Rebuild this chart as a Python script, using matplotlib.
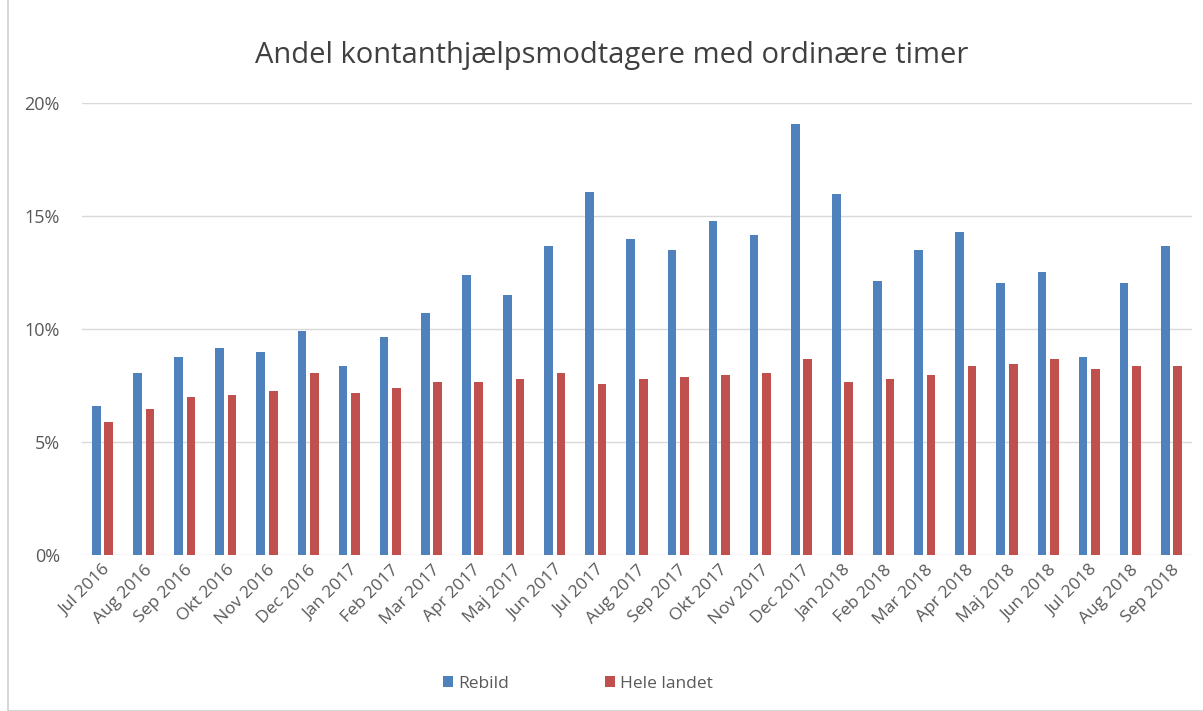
import numpy as np
import matplotlib.pyplot as plt
from matplotlib.patches import Rectangle

# --- data (andel i procent)
maaneder = ["Jul 2016", "Aug 2016", "Sep 2016", "Okt 2016", "Nov 2016", "Dec 2016",
            "Jan 2017", "Feb 2017", "Mar 2017", "Apr 2017", "Maj 2017", "Jun 2017",
            "Jul 2017", "Aug 2017", "Sep 2017", "Okt 2017", "Nov 2017", "Dec 2017",
            "Jan 2018", "Feb 2018", "Mar 2018", "Apr 2018", "Maj 2018", "Jun 2018",
            "Jul 2018", "Aug 2018", "Sep 2018"]
rebild = [6.6, 8.04, 8.78, 9.18, 9.0, 9.9, 8.37, 9.65, 10.7, 12.38, 11.5, 13.68,
          16.09, 13.99, 13.51, 14.79, 14.15, 19.07, 16.0, 12.14, 13.51, 14.32,
          12.06, 12.55, 8.77, 12.06, 13.68]
hele_landet = [5.87, 6.45, 7.01, 7.08, 7.25, 8.04, 7.17, 7.41, 7.65, 7.65, 7.81, 8.04,
               7.56, 7.81, 7.9, 7.97, 8.04, 8.69, 7.65, 7.81, 7.97, 8.37, 8.46, 8.69,
               8.22, 8.37, 8.37]
yticks = [0, 5, 10, 15, 20]

blaa = '#4F81BD'
roed = '#C0504D'
graa = '#595959'

plt.rcParams['font.family'] = ['Open Sans', 'DejaVu Sans']

slika = plt.figure(figsize=(12.03, 7.11), dpi=100)
W, H = 1203, 711
x0, x1 = 82, 1192
y0, y1 = 555, 103.3
dijagram = slika.add_axes([x0 / W, 1 - y0 / H, (x1 - x0) / W, (y0 - y1) / H])

x = np.arange(len(maaneder))
bw = 0.21
off = 0.152
dijagram.bar(x - off, rebild, width=bw, color=blaa, label='Rebild', zorder=3)
dijagram.bar(x + off, hele_landet, width=bw, color=roed, label='Hele landet', zorder=3)

dijagram.set_xlim(-0.5, len(maaneder) - 0.5)
dijagram.set_ylim(0, 20)
dijagram.set_yticks(yticks)
dijagram.set_yticklabels([f"{t}%" for t in yticks], fontsize=13, color=graa)
dijagram.set_xticks(x)
dijagram.set_xticklabels(maaneder, rotation=45, ha='right', va='top',
                         rotation_mode='anchor', fontsize=12.5, color=graa)
dijagram.tick_params(axis='both', length=0)
dijagram.tick_params(axis='y', pad=16)
dijagram.tick_params(axis='x', pad=5)
for s in dijagram.spines.values():
    s.set_visible(False)
dijagram.grid(axis='y', color='#D9D9D9', lw=1, zorder=0)

slika.text(612 / W, 1 - 55 / H, "Andel kontanthjælpsmodtagere med ordinære timer",
           ha='center', va='center', fontsize=21, color='#404040')

slika.legend(loc='center', bbox_to_anchor=(578 / W, 1 - 684 / H), ncol=2,
             frameon=False, fontsize=12.5, handlelength=0.6, handleheight=0.6,
             handletextpad=0.3, columnspacing=5.5, labelcolor=graa)

# okvir grafikona
slika.patches.append(Rectangle((8 / W, 0), 1.2, 1.2, transform=slika.transFigure,
                               fill=False, edgecolor='#D0D0D0', lw=1.2))

plt.savefig('out.png', dpi=100)
